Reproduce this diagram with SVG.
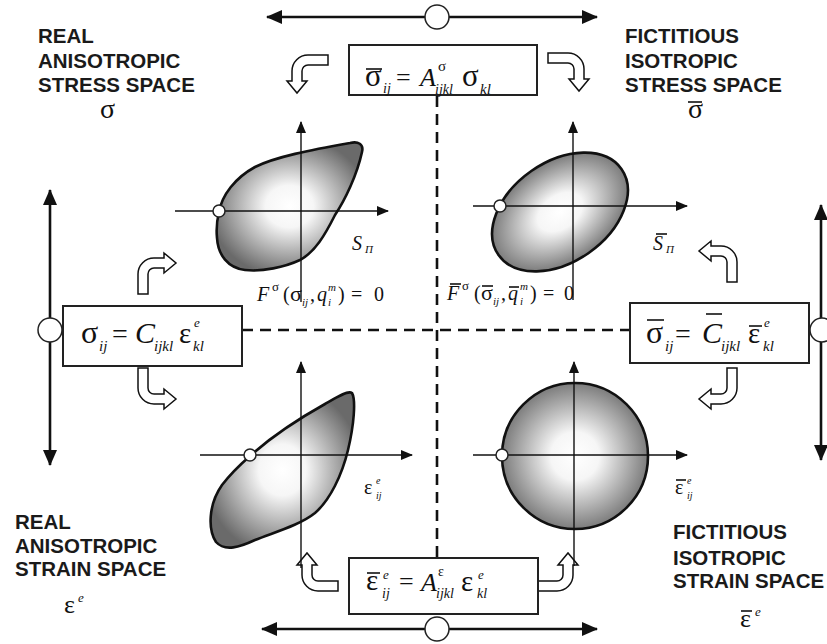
<svg xmlns="http://www.w3.org/2000/svg" width="827" height="644" viewBox="0 0 827 644">
<style>
.lbl{font-family:"Liberation Sans",Arial,sans-serif;font-weight:bold;font-size:20.5px;fill:#1a1a1a}
.m{font-family:"Liberation Serif","Times New Roman",serif;fill:#111}
.i{font-style:italic}
.box{fill:#fff;stroke:#222;stroke-width:2}
.ol{stroke:#111;stroke-width:1.6}
.ax{stroke:#111;stroke-width:1.4;fill:none}
.big{stroke:#111;stroke-width:2.6;fill:none}
.dash{stroke:#111;stroke-width:2.6;stroke-dasharray:11 7;fill:none}
.hc{fill:#fff;stroke:#111;stroke-width:1.5}
.ring{fill:#fff;stroke:#222;stroke-width:1.5}
.mk{fill:#fff;stroke:#222;stroke-width:1.5}
.shape{fill:url(#g);stroke:#111;stroke-width:2.6}
</style>
<defs>
<radialGradient id="g" cx="0.5" cy="0.5" r="0.55">
<stop offset="0" stop-color="#ffffff"/>
<stop offset="0.3" stop-color="#f6f6f6"/>
<stop offset="1" stop-color="#6a6a6a"/>
</radialGradient>
<marker id="ah" markerWidth="12" markerHeight="10" refX="11" refY="5" orient="auto-start-reverse" markerUnits="userSpaceOnUse"><path d="M0,0 L12,5 L0,10 Z" fill="#111"/></marker>
<marker id="bh" markerWidth="16" markerHeight="14" refX="15" refY="7" orient="auto-start-reverse" markerUnits="userSpaceOnUse"><path d="M0,0 L16,7 L0,14 Z" fill="#111"/></marker>
<path id="ca" d="M0,38 L0,18 A16,16 0 0 1 16,2 L26,2 L26,-3 L38,7 L26,17 L26,12 L16,12 A6,6 0 0 0 10,18 L10,38 Z"/>
</defs>
<rect width="827" height="644" fill="#fff"/>

<g id="connectors">
<line class="big" x1="267" y1="17" x2="597" y2="17" marker-start="url(#bh)" marker-end="url(#bh)"/>
<line class="big" x1="262" y1="629" x2="597" y2="629" marker-start="url(#bh)" marker-end="url(#bh)"/>
<line class="big" x1="50" y1="190" x2="50" y2="465" marker-start="url(#bh)" marker-end="url(#bh)"/>
<line class="big" x1="821" y1="205" x2="821" y2="460" marker-start="url(#bh)" marker-end="url(#bh)"/>
<circle class="ring" cx="437" cy="17" r="12"/>
<circle class="ring" cx="437" cy="629" r="12"/>
<circle class="ring" cx="50" cy="330" r="12"/>
<circle class="ring" cx="822" cy="330" r="12"/>
<line class="dash" x1="437" y1="96" x2="437" y2="557"/>
<line class="dash" x1="242" y1="330" x2="630" y2="330"/>
<use href="#ca" class="hc" transform="matrix(0,1,1,0,290,55)"/>
<use href="#ca" class="hc" transform="matrix(0,1,-1,0,586,53)"/>
<use href="#ca" class="hc" transform="translate(138,256)"/>
<use href="#ca" class="hc" transform="translate(138,406) scale(1,-1)"/>
<use href="#ca" class="hc" transform="translate(737,244) scale(-1,1)"/>
<use href="#ca" class="hc" transform="translate(737,406) scale(-1,-1)"/>
<use href="#ca" class="hc" transform="matrix(0,-1,1,0,300,591)"/>
<use href="#ca" class="hc" transform="matrix(0,-1,-1,0,575,591)"/>
</g>

<g id="label-real-stress">
<text class="lbl" x="38" y="43">REAL</text>
<text class="lbl" x="38" y="68">ANISOTROPIC</text>
<text class="lbl" x="38" y="92">STRESS SPACE</text>
<text class="m" x="100" y="118" font-size="28">σ</text>
</g>
<g id="label-fict-stress">
<text class="lbl" x="625" y="43">FICTITIOUS</text>
<text class="lbl" x="625" y="68">ISOTROPIC</text>
<text class="lbl" x="625" y="92">STRESS SPACE</text>
<text class="m" x="688" y="118" font-size="28">σ</text>
<line class="ol" x1="688" y1="102" x2="702" y2="102"/>
</g>
<g id="label-real-strain">
<text class="lbl" x="15" y="529">REAL</text>
<text class="lbl" x="15" y="553">ANISOTROPIC</text>
<text class="lbl" x="15" y="576">STRAIN SPACE</text>
<text class="m" x="64" y="613" font-size="26">ε</text>
<text class="m i" x="78" y="602" font-size="13">e</text>
</g>
<g id="label-fict-strain">
<text class="lbl" x="673" y="539">FICTITIOUS</text>
<text class="lbl" x="673" y="565">ISOTROPIC</text>
<text class="lbl" x="673" y="588">STRAIN SPACE</text>
<text class="m" x="740" y="627" font-size="26">ε</text>
<line class="ol" x1="741" y1="611" x2="752" y2="611"/>
<text class="m i" x="755" y="616" font-size="13">e</text>
</g>

<g id="box-top">
<rect class="box" x="349" y="45" width="188" height="50"/>
<text class="m" x="365" y="86" font-size="31">σ</text>
<line class="ol" x1="366" y1="69" x2="382" y2="69"/>
<text class="m i" x="383" y="93" font-size="14">ij</text>
<text class="m" x="396" y="86" font-size="26">=</text>
<text class="m i" x="420" y="86" font-size="26">A</text>
<text class="m" x="438" y="71" font-size="15">σ</text>
<text class="m i" x="435" y="94" font-size="14">ijkl</text>
<text class="m" x="462" y="86" font-size="31">σ</text>
<text class="m i" x="480" y="94" font-size="15">kl</text>
</g>

<g id="box-left">
<rect class="box" x="63" y="306" width="179" height="60"/>
<text class="m" x="81" y="343" font-size="32">σ</text>
<text class="m i" x="99" y="351" font-size="15">ij</text>
<text class="m" x="112" y="343" font-size="28">=</text>
<text class="m i" x="135" y="343" font-size="30">C</text>
<text class="m i" x="154" y="351" font-size="15">ijkl</text>
<text class="m" x="179" y="343" font-size="29">ε</text>
<text class="m i" x="194" y="327" font-size="13">e</text>
<text class="m i" x="193" y="351" font-size="15">kl</text>
</g>

<g id="box-right">
<rect class="box" x="630" y="303" width="179" height="60"/>
<text class="m" x="646" y="343" font-size="32">σ</text>
<line class="ol" x1="647" y1="320" x2="664" y2="320"/>
<text class="m i" x="665" y="351" font-size="15">ij</text>
<text class="m" x="675" y="343" font-size="28">=</text>
<text class="m i" x="702" y="343" font-size="30">C</text>
<line class="ol" x1="706" y1="314" x2="722" y2="314"/>
<text class="m i" x="721" y="351" font-size="15">ijkl</text>
<text class="m" x="748" y="343" font-size="29">ε</text>
<line class="ol" x1="749" y1="326" x2="762" y2="326"/>
<text class="m i" x="764" y="327" font-size="13">e</text>
<text class="m i" x="763" y="351" font-size="15">kl</text>
</g>

<g id="box-bottom">
<rect class="box" x="349" y="558" width="189" height="56"/>
<text class="m" x="366" y="590" font-size="29">ε</text>
<line class="ol" x1="367" y1="573" x2="380" y2="573"/>
<text class="m i" x="383" y="579" font-size="13">e</text>
<text class="m i" x="382" y="598" font-size="14">ij</text>
<text class="m" x="399" y="590" font-size="26">=</text>
<text class="m i" x="421" y="591" font-size="26">A</text>
<text class="m" x="438" y="576" font-size="14">ε</text>
<text class="m i" x="436" y="598" font-size="14">ijkl</text>
<text class="m" x="461" y="591" font-size="29">ε</text>
<text class="m i" x="478" y="579" font-size="13">e</text>
<text class="m i" x="477" y="598" font-size="14">kl</text>
</g>

<g id="plot-real-stress">
<path class="shape" d="M219,212 C222,195 235,178 255,167 C275,157 310,150 350,143 C358,141 364,144 362,152 C357,175 345,200 335,215 C325,235 315,252 300,260 C285,267 262,272 245,270 C228,268 218,255 217,238 C216,228 217,220 219,212 Z"/>
<line class="ax" x1="175" y1="211" x2="388" y2="211" marker-end="url(#ah)"/>
<line class="ax" x1="301" y1="302" x2="301" y2="122" marker-end="url(#ah)"/>
<circle class="mk" cx="219" cy="211" r="6"/>
<text class="m i" x="352" y="250" font-size="20">S</text>
<text class="m i" x="365" y="253" font-size="11">Π</text>
<text class="m i" x="257" y="301" font-size="20">F</text>
<text class="m" x="272" y="291" font-size="13">σ</text>
<text class="m" x="283" y="301" font-size="20">(</text>
<text class="m" x="290" y="301" font-size="22">σ</text>
<text class="m i" x="302" y="306" font-size="11">ij</text>
<text class="m" x="310" y="301" font-size="20">,</text>
<text class="m i" x="317" y="301" font-size="20">q</text>
<text class="m i" x="328" y="291" font-size="11">m</text>
<text class="m i" x="328" y="306" font-size="11">i</text>
<text class="m" x="338" y="301" font-size="20">)</text>
<text class="m" x="351" y="301" font-size="20">=</text>
<text class="m" x="374" y="301" font-size="20">0</text>
</g>

<g id="plot-fict-stress">
<ellipse class="shape" cx="560" cy="212" rx="75" ry="50" transform="rotate(-35 560 212)"/>
<line class="ax" x1="473" y1="206" x2="687" y2="206" marker-end="url(#ah)"/>
<line class="ax" x1="573" y1="300" x2="573" y2="122" marker-end="url(#ah)"/>
<circle class="mk" cx="500" cy="206" r="6"/>
<text class="m i" x="653" y="250" font-size="20">S</text>
<line class="ol" x1="656" y1="234" x2="667" y2="234"/>
<text class="m i" x="666" y="253" font-size="11">Π</text>
<text class="m i" x="447" y="300" font-size="20">F</text>
<line class="ol" x1="450" y1="284" x2="461" y2="284"/>
<text class="m" x="462" y="290" font-size="13">σ</text>
<text class="m" x="474" y="300" font-size="20">(</text>
<text class="m" x="481" y="300" font-size="22">σ</text>
<line class="ol" x1="482" y1="286" x2="493" y2="286"/>
<text class="m i" x="493" y="305" font-size="11">ij</text>
<text class="m" x="501" y="300" font-size="20">,</text>
<text class="m i" x="508" y="300" font-size="20">q</text>
<line class="ol" x1="509" y1="287" x2="519" y2="287"/>
<text class="m i" x="520" y="290" font-size="11">m</text>
<text class="m i" x="520" y="305" font-size="11">i</text>
<text class="m" x="530" y="300" font-size="20">)</text>
<text class="m" x="543" y="300" font-size="20">=</text>
<text class="m" x="564" y="300" font-size="20">0</text>
</g>

<g id="plot-real-strain">
<path class="shape" d="M250,456 C270,438 300,418 325,404 C337,397 348,390 352,393 C356,400 354,425 348,450 C342,475 330,500 315,513 C300,525 275,532 255,540 C240,547 225,552 216,542 C208,530 208,505 222,485 C232,472 242,463 250,456 Z"/>
<line class="ax" x1="200" y1="455" x2="412" y2="455" marker-end="url(#ah)"/>
<line class="ax" x1="301" y1="568" x2="301" y2="362" marker-end="url(#ah)"/>
<circle class="mk" cx="250" cy="455" r="6"/>
<text class="m" x="364" y="494" font-size="20">ε</text>
<text class="m i" x="376" y="484" font-size="10">e</text>
<text class="m i" x="376" y="499" font-size="10">ij</text>
</g>

<g id="plot-fict-strain">
<circle class="shape" cx="575" cy="456" r="73"/>
<line class="ax" x1="473" y1="455" x2="687" y2="455" marker-end="url(#ah)"/>
<line class="ax" x1="574" y1="566" x2="574" y2="362" marker-end="url(#ah)"/>
<circle class="mk" cx="502" cy="455" r="6"/>
<text class="m" x="675" y="494" font-size="20">ε</text>
<line class="ol" x1="676" y1="480" x2="686" y2="480"/>
<text class="m i" x="687" y="484" font-size="10">e</text>
<text class="m i" x="687" y="499" font-size="10">ij</text>
</g>
</svg>
